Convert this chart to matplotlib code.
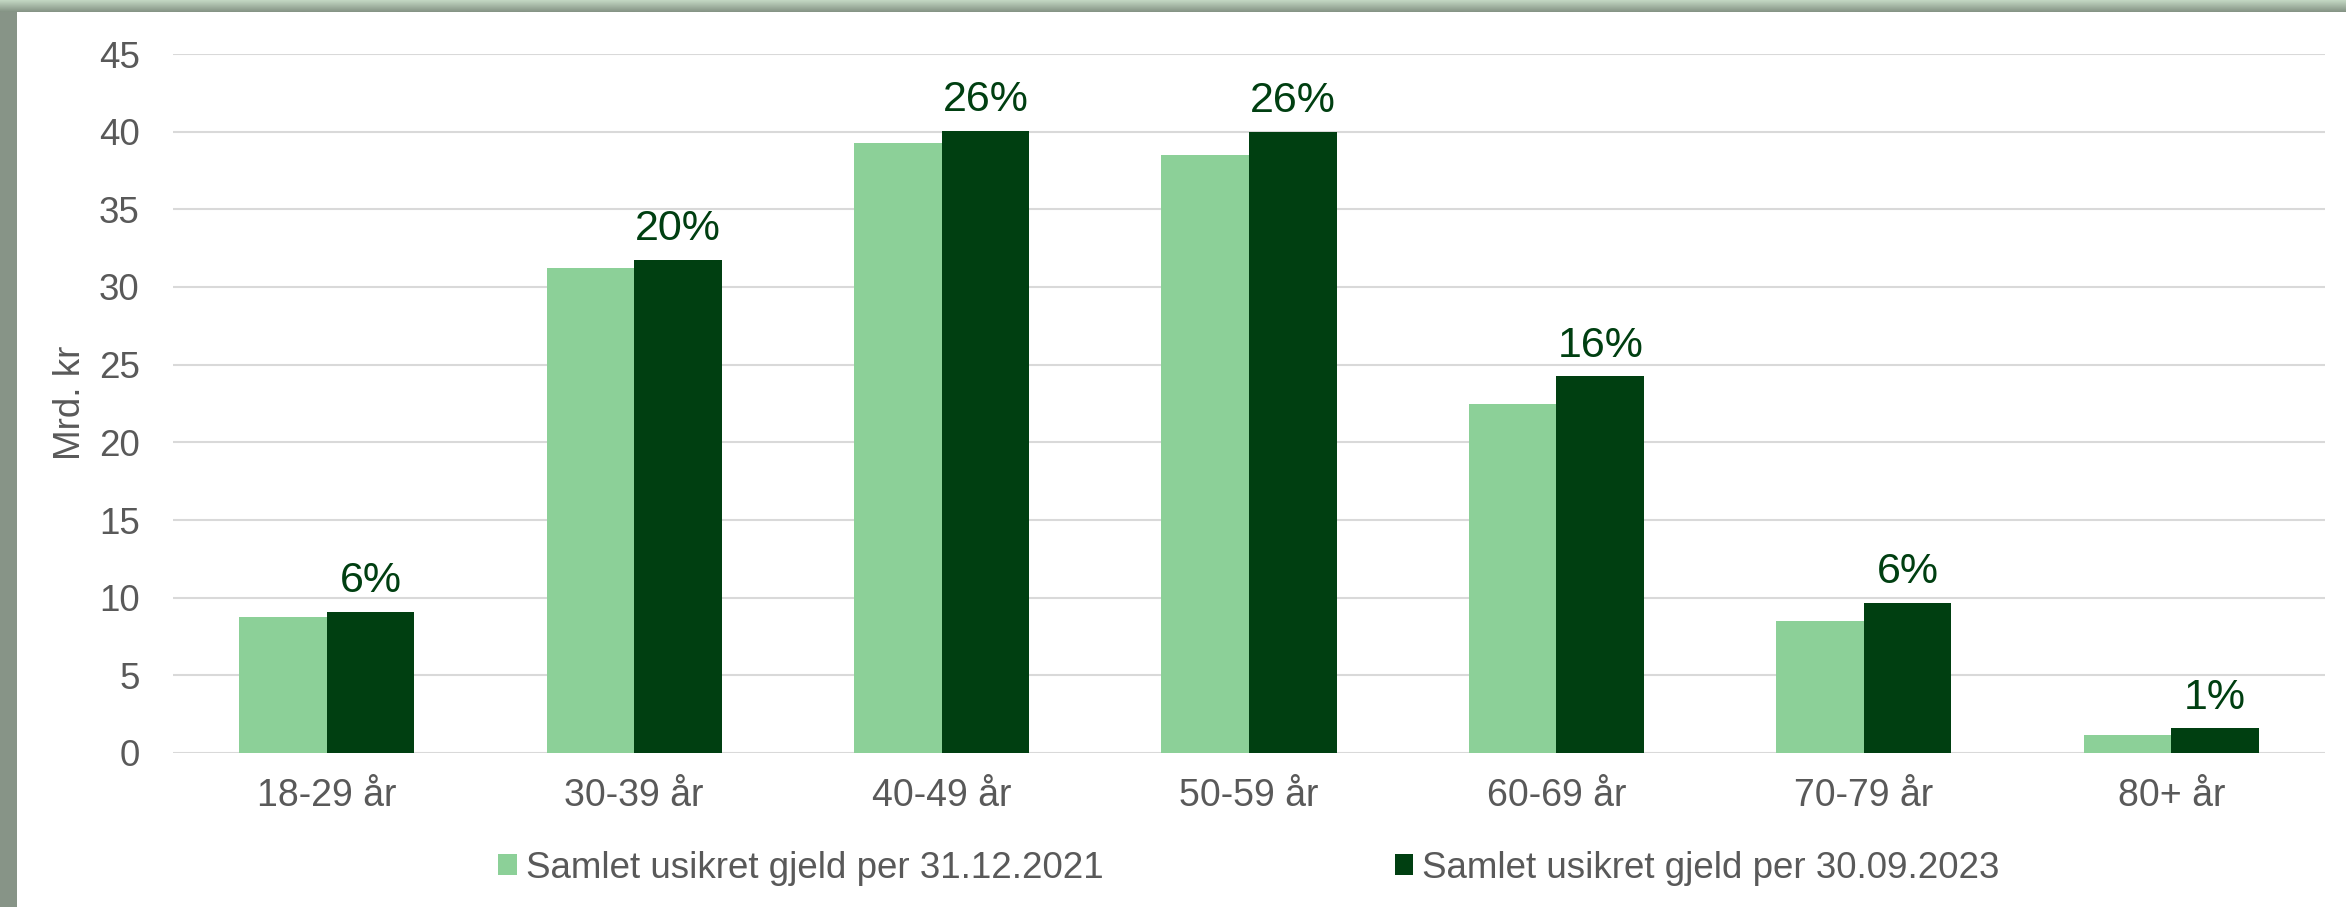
import numpy as np
import matplotlib
matplotlib.use("Agg")
import matplotlib.pyplot as plt

plt.rcParams['font.family'] = ['Liberation Sans', 'DejaVu Sans']

categories = ["18-29 år", "30-39 år", "40-49 år", "50-59 år", "60-69 år", "70-79 år", "80+ år"]
gjeld_2021 = [8.76, 31.2, 39.3, 38.5, 22.45, 8.5, 1.16]
gjeld_2023 = [9.1, 31.75, 40.05, 40.0, 24.25, 9.68, 1.6]
andel_2023 = ["6%", "20%", "26%", "26%", "16%", "6%", "1%"]
series_names = ["Samlet usikret gjeld per 31.12.2021", "Samlet usikret gjeld per 30.09.2023"]
yticks = [0, 5, 10, 15, 20, 25, 30, 35, 40, 45]

LIGHT = "#8CD098"
DARK = "#003F11"
TXT = "#595959"
GRID = "#D9D9D9"

W, H = 2346, 907
fig = plt.figure(figsize=(W / 100, H / 100), dpi=100)
fig.patch.set_facecolor("white")

# frame decoration (top gradient bar and left bar)
top_ax = fig.add_axes([0, 1 - 12 / H, 1, 12 / H])
grad = np.linspace(0, 1, 12).reshape(-1, 1)
c0 = np.array([0xC2, 0xD6, 0xC2]) / 255
c1 = np.array([0x86, 0x95, 0x86]) / 255
img = (c0[None, None, :] * (1 - grad[..., None]) + c1[None, None, :] * grad[..., None])
img = np.repeat(img, 10, axis=1)
top_ax.imshow(img, aspect='auto', interpolation='bilinear')
top_ax.axis('off')
left_ax = fig.add_axes([0, 0, 17 / W, 1 - 12 / H])
left_ax.set_facecolor("#879487")
left_ax.set_xticks([]); left_ax.set_yticks([])
for s in left_ax.spines.values():
    s.set_visible(False)

ax = fig.add_axes([173 / W, (H - 753) / H, (2325 - 173) / W, (753 - 54) / H])
x = np.arange(len(categories))
bw = 0.285
ax.bar(x - bw / 2, gjeld_2021, width=bw, color=LIGHT, label=series_names[0], zorder=3)
ax.bar(x + bw / 2, gjeld_2023, width=bw, color=DARK, label=series_names[1], zorder=3)

for xi, v, lab in zip(x, gjeld_2023, andel_2023):
    ax.annotate(lab, xy=(xi + bw / 2, v), xytext=(0, 14), textcoords='offset points',
                ha='center', va='baseline', fontsize=31, color=DARK)

ax.set_xlim(-0.5, len(categories) - 0.5)
ax.set_ylim(0, 45)
ax.set_yticks(yticks)
ax.set_xticks(x)
ax.set_xticklabels(categories)
ax.yaxis.grid(True, color=GRID, linewidth=1.5, zorder=0)
ax.set_axisbelow(True)
for s in ax.spines.values():
    s.set_visible(False)
ax.tick_params(axis='y', length=0, pad=24, labelsize=26.5, labelcolor=TXT)
ax.tick_params(axis='x', length=0, pad=18, labelsize=27, labelcolor=TXT)

fig.text(70 / W, (H - 403) / H, "Mrd. kr", rotation=90, ha='center', va='center',
         fontsize=26.5, color=TXT)

leg = ax.legend(loc='center', bbox_to_anchor=((173 + 2325) / 2 / W, (H - 868) / H),
                bbox_transform=fig.transFigure, ncol=2, frameon=False,
                fontsize=26.5, handlelength=0.51, handleheight=0.51,
                handletextpad=0.25, columnspacing=7.9, borderpad=0)
for t in leg.get_texts():
    t.set_color(TXT)

fig.savefig("out.png", dpi=100)
